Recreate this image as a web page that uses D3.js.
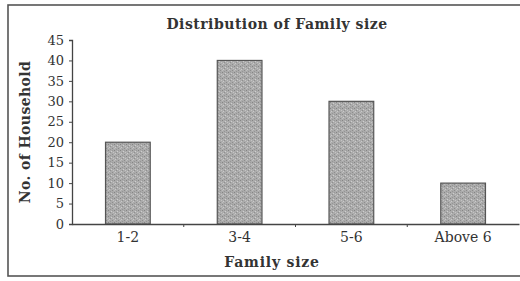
<!DOCTYPE html>
<html><head><meta charset="utf-8">
<script src="https://cdn.jsdelivr.net/npm/d3@7"></script>
<style>
html,body{margin:0;padding:0;background:#fff;}
svg{display:block;}
text{font-family:"DejaVu Serif",serif;fill:#333;}
</style></head>
<body>
<svg id="c" width="520" height="281"></svg>
<script>
const categories = ["1-2", "3-4", "5-6", "Above 6"];
const households = [20, 40, 30, 10];
const yTicks = [0, 5, 10, 15, 20, 25, 30, 35, 40, 45];
const title = "Distribution of Family size";
const xTitle = "Family size";
const yTitle = "No. of Household";

const svg = d3.select("#c");

// outer frame
svg.append("rect").attr("x", 8).attr("y", 5).attr("width", 520).attr("height", 271)
  .attr("fill", "#fff").attr("stroke", "#555").attr("stroke-width", 1.6);

// texture pattern
const defs = svg.append("defs");
const pat = defs.append("pattern").attr("id", "stip").attr("patternUnits", "userSpaceOnUse")
  .attr("width", 6).attr("height", 6);
pat.append("rect").attr("width", 6).attr("height", 6).attr("fill", "#ababab");
[[0,0,"#858585"],[3,1,"#cfcfcf"],[1,3,"#cacaca"],[4,4,"#8c8c8c"],[2,5,"#959595"],[5,2,"#c4c4c4"],[0,4,"#bebebe"],[4,0,"#9a9a9a"],[2,2,"#8f8f8f"]]
  .forEach(([px,py,c]) => pat.append("rect").attr("x", px).attr("y", py).attr("width", 1).attr("height", 1).attr("fill", c));

const x = d3.scaleBand().domain(categories).range([72, 519]).paddingInner(0.6).paddingOuter(0.3);
const y = d3.scaleLinear().domain([0, 45]).range([224, 40]);

// bars
svg.selectAll("rect.bar").data(categories).enter().append("rect").attr("class", "bar")
  .attr("x", d => x(d)).attr("width", x.bandwidth())
  .attr("y", (d, i) => y(households[i])).attr("height", (d, i) => y(0) - y(households[i]))
  .attr("fill", "url(#stip)").attr("stroke", "#555").attr("stroke-width", 1.2);

// y axis
const yAxis = svg.append("g").attr("transform", "translate(72,0)")
  .call(d3.axisLeft(y).tickValues(yTicks).tickSize(3).tickPadding(5));
yAxis.select(".domain").attr("stroke", "#444").attr("stroke-width", 1.3);
yAxis.selectAll(".tick line").attr("stroke", "#444");
yAxis.selectAll("text").attr("font-size", 13).attr("font-family", "DejaVu Serif, serif").attr("fill", "#444");

// x axis with ticks at band boundaries
const xAxis = svg.append("g").attr("transform", "translate(0,224)")
  .call(d3.axisBottom(x).tickSize(0).tickPadding(8));
xAxis.select(".domain").attr("stroke", "#444").attr("stroke-width", 1.3);
xAxis.selectAll("text").attr("font-size", 14).attr("font-family", "DejaVu Serif, serif").attr("fill", "#444");
const bounds = categories.slice(1).map(d => x(d) - x.step() * x.paddingInner() / 2);
xAxis.selectAll("line.sep").data(bounds).enter().append("line").attr("class", "sep")
  .attr("x1", d => d).attr("x2", d => d).attr("y1", 0).attr("y2", 3).attr("stroke", "#444");

// titles
svg.append("text").attr("x", 277).attr("y", 29).attr("text-anchor", "middle")
  .attr("font-size", 14).attr("letter-spacing", 0.5).attr("font-weight", "bold").text(title);
svg.append("text").attr("x", 272).attr("y", 267).attr("text-anchor", "middle")
  .attr("font-size", 14).attr("letter-spacing", 0.8).attr("font-weight", "bold").text(xTitle);
svg.append("text").attr("transform", "translate(30,132) rotate(-90)").attr("text-anchor", "middle")
  .attr("font-size", 14).attr("letter-spacing", 0.4).attr("font-weight", "bold").text(yTitle);
</script>
</body></html>
